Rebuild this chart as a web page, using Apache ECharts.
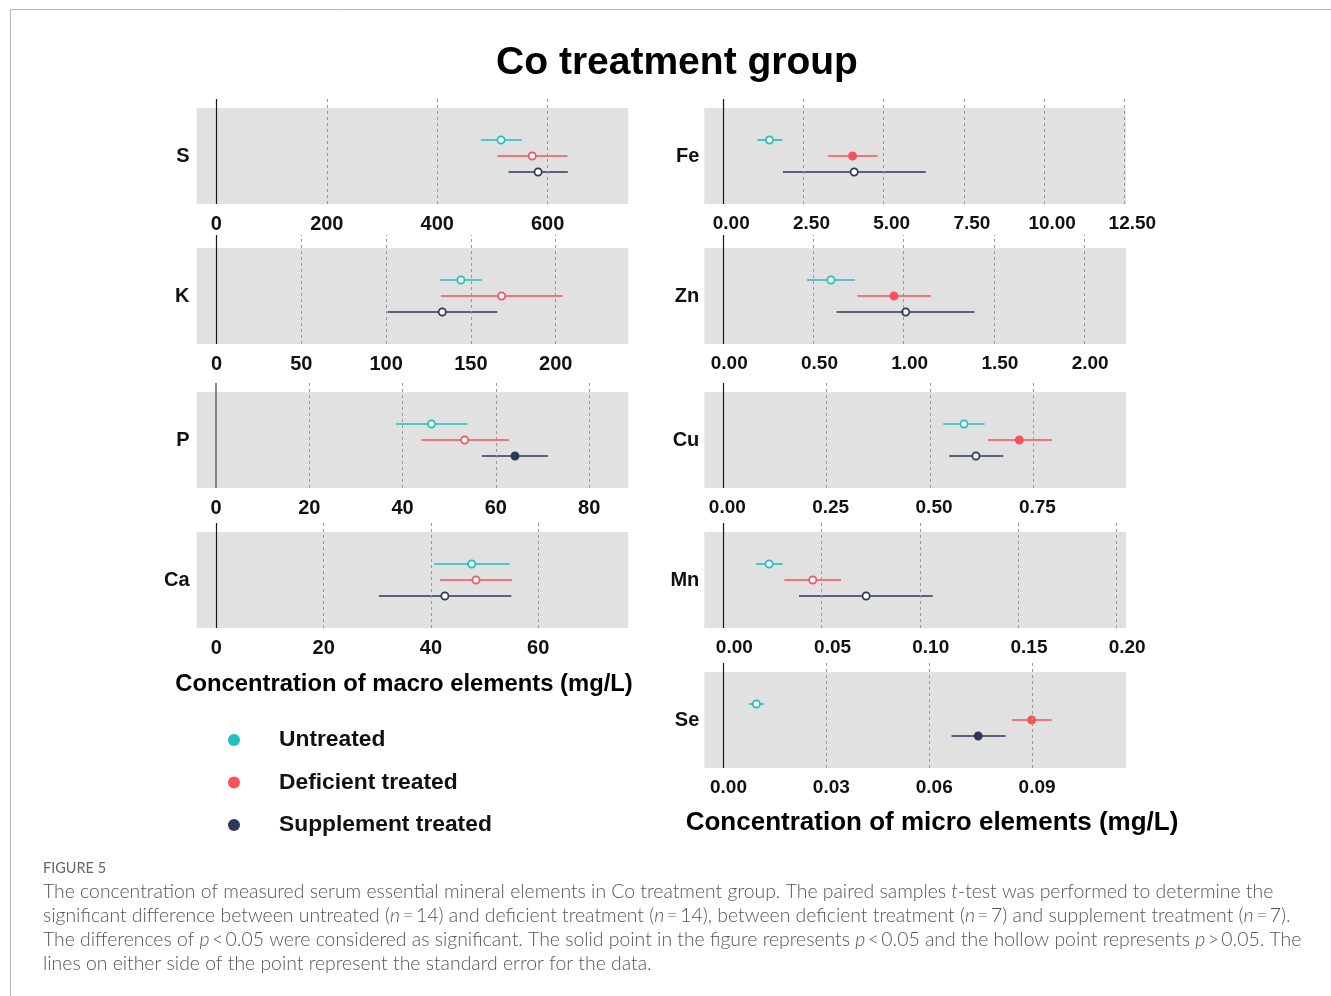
<!DOCTYPE html>
<html><head><meta charset="utf-8">
<script src="https://cdn.jsdelivr.net/npm/echarts@6/dist/echarts.min.js"></script>
<style>html,body{margin:0;padding:0;background:#fff}#c{width:1331px;height:996px}</style>
</head><body><div id="c"></div>
<script>
// ---------------- DATA ----------------
const elements = ['S', 'K', 'P', 'Ca', 'Fe', 'Zn', 'Cu', 'Mn', 'Se'];
const groupNames = ['Untreated', 'Deficient treated', 'Supplement treated'];

const untreatedMean  = [515.5, 144.1, 46.2, 47.6, 1.44, 0.597, 0.582, 0.0233, 0.0096];
const untreatedLow   = [479.0, 131.7, 38.6, 40.6, 1.06, 0.464, 0.532, 0.0167, 0.0074];
const untreatedHigh  = [553.6, 156.5, 53.9, 54.7, 1.84, 0.730, 0.632, 0.0302, 0.0118];
const deficientMean  = [572.0, 168.1, 53.3, 48.4, 4.03, 0.946, 0.716, 0.0455, 0.0899];
const deficientLow   = [508.8, 132.3, 44.0, 41.7, 3.27, 0.743, 0.640, 0.0311, 0.0842];
const deficientHigh  = [635.7, 204.1, 62.8, 55.1, 4.81, 1.151, 0.795, 0.0599, 0.0957];
const supplementMean = [582.6, 133.1, 64.1, 42.6, 4.08, 1.011, 0.611, 0.0727, 0.0743];
const supplementLow  = [529.0, 100.9, 57.0, 30.3, 1.86, 0.628, 0.546, 0.0385, 0.0665];
const supplementHigh = [636.5, 165.5, 71.2, 55.0, 6.31, 1.393, 0.677, 0.1066, 0.0823];
// 1 = solid point (p < 0.05), 0 = hollow point
const untreatedSolid  = [0, 0, 0, 0, 0, 0, 0, 0, 0];
const deficientSolid  = [0, 0, 0, 0, 1, 1, 1, 0, 1];
const supplementSolid = [0, 0, 1, 0, 0, 0, 0, 0, 1];

const sTicks  = ['0', '200', '400', '600'];
const kTicks  = ['0', '50', '100', '150', '200'];
const pTicks  = ['0', '20', '40', '60', '80'];
const caTicks = ['0', '20', '40', '60'];
const feTicks = ['0.00', '2.50', '5.00', '7.50', '10.00', '12.50'];
const znTicks = ['0.00', '0.50', '1.00', '1.50', '2.00'];
const cuTicks = ['0.00', '0.25', '0.50', '0.75'];
const mnTicks = ['0.00', '0.05', '0.10', '0.15', '0.20'];
const seTicks = ['0.00', '0.03', '0.06', '0.09'];

// ---------------- LAYOUT / STYLE ----------------
const colors = ['#1fbfbf', '#f5525a', '#2e3858'];
const groupRow = [4, 3, 2];
const FONT = '"Liberation Sans", Arial, Helvetica, sans-serif';
const panels = [
  { el: 'S',  col: 0, top: 108, ext: 9,  min: -36,     max: 746,    ticks: sTicks,  zero: '#1a1a1a', zw: 1.2, shift: 0 },
  { el: 'K',  col: 0, top: 248, ext: 13, min: -11.8,   max: 242.8,  ticks: kTicks,  zero: '#1a1a1a', zw: 1.2, shift: 0 },
  { el: 'P',  col: 0, top: 392, ext: 9,  min: -4.2,    max: 88.4,   ticks: pTicks,  zero: '#7a7a7a', zw: 1.8, shift: 0 },
  { el: 'Ca', col: 0, top: 532, ext: 9,  min: -3.7,    max: 76.8,   ticks: caTicks, zero: '#1a1a1a', zw: 1.2, shift: 0 },
  { el: 'Fe', col: 1, top: 108, ext: 9,  min: -0.59,   max: 12.55,  ticks: feTicks, zero: '#1a1a1a', zw: 1.2, shift: 16 },
  { el: 'Zn', col: 1, top: 248, ext: 13, min: -0.105,  max: 2.232,  ticks: znTicks, zero: '#1a1a1a', zw: 1.2, shift: 12 },
  { el: 'Cu', col: 1, top: 392, ext: 9,  min: -0.046,  max: 0.974,  ticks: cuTicks, zero: '#1a1a1a', zw: 1.2, shift: 8 },
  { el: 'Mn', col: 1, top: 532, ext: 9,  min: -0.0097, max: 0.205,  ticks: mnTicks, zero: '#1a1a1a', zw: 1.2, shift: 22 },
  { el: 'Se', col: 1, top: 672, ext: 9,  min: -0.0056, max: 0.1174, ticks: seTicks, zero: '#1a1a1a', zw: 1.2, shift: 10 }
];
const colLeft = [196.5, 704.3];
const colWidth = [431.8, 421.7];

const means = [untreatedMean, deficientMean, supplementMean];
const lows = [untreatedLow, deficientLow, supplementLow];
const highs = [untreatedHigh, deficientHigh, supplementHigh];
const solids = [untreatedSolid, deficientSolid, supplementSolid];

function renderItem(params, api) {
  const low = api.value(0), high = api.value(1), mean = api.value(2), y = api.value(3), solid = api.value(4);
  const c = api.visual('color');
  const p1 = api.coord([low, y]), p2 = api.coord([high, y]), pm = api.coord([mean, y]);
  return {
    type: 'group',
    children: [
      { type: 'line', shape: { x1: p1[0], y1: p1[1], x2: p2[0], y2: p2[1] }, style: { stroke: c, lineWidth: 1.6 } },
      { type: 'circle', shape: { cx: pm[0], cy: pm[1], r: 3.6 }, style: { fill: solid ? c : '#ffffff', stroke: c, lineWidth: 1.7 } }
    ]
  };
}

const grid = [], xAxis = [], yAxis = [], series = [];
panels.forEach((p, gi) => {
  const ei = elements.indexOf(p.el);
  const tickVals = p.ticks.map(t => parseFloat(t));
  grid.push({ left: colLeft[p.col], width: colWidth[p.col], top: p.top - p.ext, height: 96 + p.ext, containLabel: false });
  xAxis.push({
    type: 'value', gridIndex: gi, min: p.min, max: p.max,
    axisLine: { show: false }, axisTick: { show: false }, splitLine: { show: false },
    axisLabel: {
      customValues: tickVals,
      formatter: v => { const i = tickVals.findIndex(t => Math.abs(t - v) < 1e-9); return i >= 0 ? p.ticks[i] : ''; },
      fontFamily: FONT, fontWeight: 'bold', fontSize: p.col === 0 ? 20 : 19, color: '#111',
      margin: 10, padding: [0, 0, 0, p.shift]
    }
  });
  yAxis.push({
    type: 'value', gridIndex: gi, min: 0, max: 6 + p.ext / 16, interval: 1,
    axisLine: { show: false }, axisTick: { show: false }, splitLine: { show: false },
    axisLabel: {
      formatter: v => (v === 3 ? p.el : ''),
      fontFamily: FONT, fontWeight: 'bold', fontSize: 20, color: '#111',
      margin: p.col === 0 ? 7 : 5, padding: [2, 0, 0, 0]
    }
  });
  series.push({
    type: 'scatter', xAxisIndex: gi, yAxisIndex: gi, data: [[0, 3]], symbolSize: 0, silent: true, z: 1,
    markArea: { silent: true, itemStyle: { color: '#e1e1e1' }, data: [[{ yAxis: 0 }, { yAxis: 6 }]] }
  });
  series.push({
    type: 'scatter', xAxisIndex: gi, yAxisIndex: gi, data: [[0, 3]], symbolSize: 0, silent: true, z: 2,
    markLine: {
      silent: true, symbol: ['none', 'none'], label: { show: false },
      lineStyle: { color: '#9a9a9a', type: [3, 3], width: 1 },
      data: tickVals.map(v => v === 0
        ? { xAxis: 0, lineStyle: { color: p.zero, type: 'solid', width: p.zw } }
        : { xAxis: v })
    }
  });
  for (let k = 0; k < 3; k++) {
    series.push({
      type: 'custom', name: groupNames[k], xAxisIndex: gi, yAxisIndex: gi, z: 3, clip: false,
      itemStyle: { color: colors[k] }, renderItem,
      encode: { x: [0, 1, 2], y: 3 },
      data: [[lows[k][ei], highs[k][ei], means[k][ei], groupRow[k], solids[k][ei]]]
    });
  }
});

const capStyle = { fontFamily: 'Lato, "Open Sans", sans-serif', fontWeight: 300, fontSize: 19.4, fill: '#555' };
const capRich = { i: Object.assign({}, capStyle, { fontStyle: 'italic' }) };
const captionLines = [
  'The concentration of measured serum essential mineral elements in Co treatment group. The paired samples {i|t}-test was performed to determine the',
  'significant difference between untreated ({i|n}\u2009=\u200914) and deficient treatment ({i|n}\u2009=\u200914), between deficient treatment ({i|n}\u2009=\u20097) and supplement treatment ({i|n}\u2009=\u20097).',
  'The differences of {i|p}\u2009<\u20090.05 were considered as significant. The solid point in the figure represents {i|p}\u2009<\u20090.05 and the hollow point represents {i|p}\u2009>\u20090.05. The',
  'lines on either side of the point represent the standard error for the data.'
];

const graphic = [
  { type: 'polyline', silent: true, shape: { points: [[10.5, 996], [10.5, 9.5], [1331, 9.5]] }, style: { stroke: '#b5b5b5', lineWidth: 1, fill: null } },
  { type: 'text', x: 677, y: 63, style: { text: 'Co treatment group', fontFamily: FONT, fontWeight: 'bold', fontSize: 39, fill: '#000', align: 'center', verticalAlign: 'middle', textAlign: 'center', textVerticalAlign: 'middle' } },
  { type: 'text', x: 404, y: 684, style: { text: 'Concentration of macro elements (mg/L)', fontFamily: FONT, fontWeight: 'bold', fontSize: 23.8, fill: '#000', align: 'center', verticalAlign: 'middle', textAlign: 'center', textVerticalAlign: 'middle' } },
  { type: 'text', x: 932, y: 823, style: { text: 'Concentration of micro elements (mg/L)', fontFamily: FONT, fontWeight: 'bold', fontSize: 26, fill: '#000', align: 'center', verticalAlign: 'middle', textAlign: 'center', textVerticalAlign: 'middle' } },
  { type: 'text', x: 43, y: 868, style: Object.assign({}, capStyle, { text: 'FIGURE 5', fontSize: 14.5, fontWeight: 400, fill: '#666', verticalAlign: 'middle', textVerticalAlign: 'middle' }) }
];
captionLines.forEach((t, i) => {
  graphic.push({ type: 'text', x: 43, y: 892 + i * 24, style: Object.assign({}, capStyle, { text: t, rich: capRich, verticalAlign: 'middle', textVerticalAlign: 'middle' }) });
});

const chart = echarts.init(document.getElementById('c'), null, { renderer: 'canvas' });
chart.setOption({
  animation: false,
  backgroundColor: '#ffffff',
  textStyle: { fontFamily: FONT },
  legend: {
    orient: 'vertical', left: 223, top: 723, icon: 'circle', itemWidth: 12, itemHeight: 12, itemGap: 18.5,
    selectedMode: false,
    textStyle: { fontFamily: FONT, fontWeight: 'bold', fontSize: 22.8, color: '#111', lineHeight: 24, padding: [0, 0, 0, 34] },
    data: groupNames.map((n, k) => ({ name: n, itemStyle: { color: colors[k] } }))
  },
  grid, xAxis, yAxis, series, graphic
});
</script></body></html>
